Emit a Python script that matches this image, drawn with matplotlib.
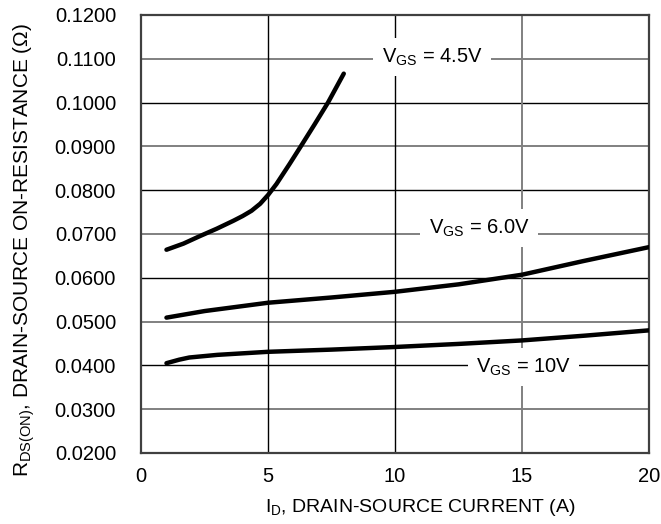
import matplotlib.pyplot as plt
import numpy as np

plt.rcParams['font.family'] = ['Liberation Sans', 'DejaVu Sans']
plt.rcParams['mathtext.fontset'] = 'custom'
plt.rcParams['mathtext.rm'] = 'Liberation Sans'
plt.rcParams['mathtext.it'] = 'Liberation Sans'

# Drain current (A) vs on-resistance (ohm) for three gate voltages
id_45 = [1.0, 1.67, 2.31, 2.98, 3.63, 4.0, 4.35, 4.69, 5.0, 5.33, 5.85, 6.31, 6.83, 7.36, 7.98]
r_45 = [0.0664, 0.0678, 0.0695, 0.0712, 0.0730, 0.0741, 0.0753, 0.0769, 0.0789, 0.0814,
        0.0860, 0.0902, 0.0950, 0.1000, 0.1066]

id_60 = [1.0, 2.5, 5.0, 7.5, 10.0, 12.5, 15.0, 17.4, 20.0]
r_60 = [0.0509, 0.0524, 0.0543, 0.0555, 0.0568, 0.0585, 0.0607, 0.0638, 0.0670]

id_10 = [1.0, 1.5, 1.9, 3.0, 5.0, 7.5, 10.0, 12.5, 15.0, 17.5, 20.0]
r_10 = [0.0405, 0.0413, 0.0418, 0.0424, 0.0431, 0.0436, 0.0442, 0.0449, 0.0457, 0.0468, 0.0480]

x_ticks = [0, 5, 10, 15, 20]
y_ticks = [0.02, 0.03, 0.04, 0.05, 0.06, 0.07, 0.08, 0.09, 0.10, 0.11, 0.12]

fig = plt.figure(figsize=(6.61, 5.24), dpi=100)
ax = fig.add_axes([0.2134, 0.1355, 0.7686, 0.836])
ax.set_xlim(0, 20)
ax.set_ylim(0.02, 0.12)

# grid: alternate black / gray lines
for i, y in enumerate(y_ticks[1:-1]):
    c = '#808080' if i % 2 == 0 else 'black'
    lw = 1.4 if i % 2 == 0 else 1.0
    ax.axhline(y, color=c, lw=lw, zorder=1)
for x, c, lw in [(5, 'black', 1.0), (10, 'black', 1.0), (15, '#808080', 1.4)]:
    ax.axvline(x, color=c, lw=lw, zorder=1)

for xs, ys in [(id_45, r_45), (id_60, r_60), (id_10, r_10)]:
    ax.plot(xs, ys, color='black', lw=3.2, solid_capstyle='round',
            solid_joinstyle='round', zorder=3)

box = dict(facecolor='white', edgecolor='none', pad=6)
ax.text(11.45, 0.1104, r'V$_{\mathregular{GS}}$ = 4.5V', fontsize=14.5, ha='center',
        va='center', bbox=box, zorder=2)
ax.text(13.3, 0.0713, r'V$_{\mathregular{GS}}$ = 6.0V', fontsize=14.5, ha='center',
        va='center', bbox=box, zorder=2)
ax.text(15.05, 0.0396, r'V$_{\mathregular{GS}}$ = 10V', fontsize=14.5, ha='center',
        va='center', bbox=box, zorder=2)

ax.set_xticks(x_ticks)
ax.set_yticks(y_ticks)
ax.set_yticklabels(['%.4f' % v for v in y_ticks])
ax.tick_params(length=0, labelsize=14.5)
ax.tick_params(axis='x', pad=10)
ax.tick_params(axis='y', pad=18)
for s in ax.spines.values():
    s.set_color('#404040')
    s.set_linewidth(1.6)

ax.set_xlabel(r'I$_{\mathregular{D}}$, DRAIN-SOURCE CURRENT (A)', fontsize=14)
ax.xaxis.set_label_coords(0.549, -0.1)
ax.set_ylabel(r'R$_{\mathregular{DS(ON)}}$, DRAIN-SOURCE ON-RESISTANCE ($\Omega$)',
              fontsize=15)
ax.yaxis.set_label_coords(-0.205, 0.4635)

plt.savefig('out.png', dpi=100)
